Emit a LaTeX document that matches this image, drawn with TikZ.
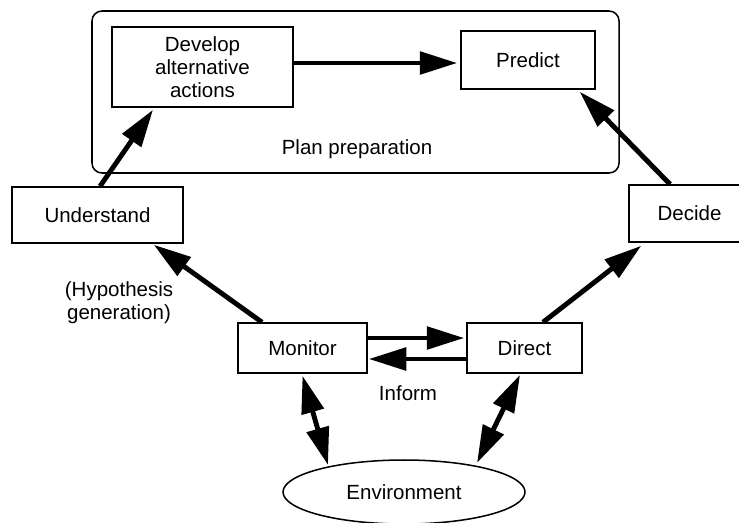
\documentclass[tikz,border=0pt]{standalone}
\usepackage{fontspec}
\setmainfont{Liberation Sans}
\usetikzlibrary{arrows.meta,shapes.geometric}

\tikzset{
  box/.style={draw,line width=1.3pt,inner sep=0pt,align=center},
  flow/.style={line width=4.2pt,-{Triangle[length=32pt,width=19pt]}},
  both/.style={line width=4.2pt,{Triangle[length=32pt,width=19pt]}-{Triangle[length=32pt,width=19pt]}}
}

\begin{document}
\begin{tikzpicture}[x=0.03cm,y=-0.03cm,font=\fontsize{17.5}{19.5}\selectfont]
\useasboundingbox (0,0) rectangle (739,522);

% plan preparation
\node[box,rounded corners=8.5pt,minimum width=15.81cm,minimum height=4.86cm] (plan) at (355.5,92) {};
\node[box,minimum width=5.43cm,minimum height=2.4cm] (develop) at (202.5,67) {Develop\\alternative\\actions};
\node[box,minimum width=4.02cm,minimum height=1.74cm] (predict) at (528,60) {Predict};
\node (planlbl) at (357,149) {Plan preparation};

\node[box,minimum width=5.13cm,minimum height=1.68cm] (understand) at (97.5,215) {Understand};
\node[box,minimum width=3.63cm,minimum height=1.71cm] (decide) at (689.5,213.5) {Decide};
\node[box,minimum width=3.87cm,minimum height=1.5cm] (monitor) at (302.5,348) {Monitor};
\node[box,minimum width=3.45cm,minimum height=1.5cm] (direct) at (524.5,348) {Direct};
\node[draw,ellipse,line width=1.3pt,inner sep=0pt,minimum width=7.26cm,minimum height=1.92cm] (env) at (404,492) {Environment};

\node[align=center] (hyp) at (119,303) {(Hypothesis\\generation)};
\node (inform) at (408,393) {Inform};

\draw[flow] ([yshift=0.12cm]develop.east) -- ([shift={(-0.09cm,-0.09cm)}]predict.west);
\draw[flow] ([xshift=0.075cm]understand.north) -- ([shift={(-1.485cm,-0.06cm)}]develop.south);
\draw[flow] ([xshift=-0.585cm]decide.north) -- ([shift={(-0.48cm,-0.06cm)}]predict.south east);
\draw[flow] ([xshift=-1.215cm]monitor.north) -- ([shift={(-0.9cm,-0.03cm)}]understand.south east);
\draw[flow] ([xshift=0.555cm]direct.north) -- ([shift={(0.39cm,-0.09cm)}]decide.south west);
\draw[flow] ([yshift=0.3cm]monitor.east) -- ([shift={(-0.06cm,0.3cm)}]direct.west);
\draw[flow] ([yshift=-0.33cm]direct.west) -- ([shift={(0.03cm,-0.33cm)}]monitor.east);
\draw[both] ([yshift=-0.06cm]monitor.south) -- ([shift={(-2.28cm,0.81cm)}]env.center);
\draw[both] ([shift={(-0.135cm,-0.03cm)}]direct.south) -- ([shift={(2.19cm,0.87cm)}]env.center);
\end{tikzpicture}
\end{document}
